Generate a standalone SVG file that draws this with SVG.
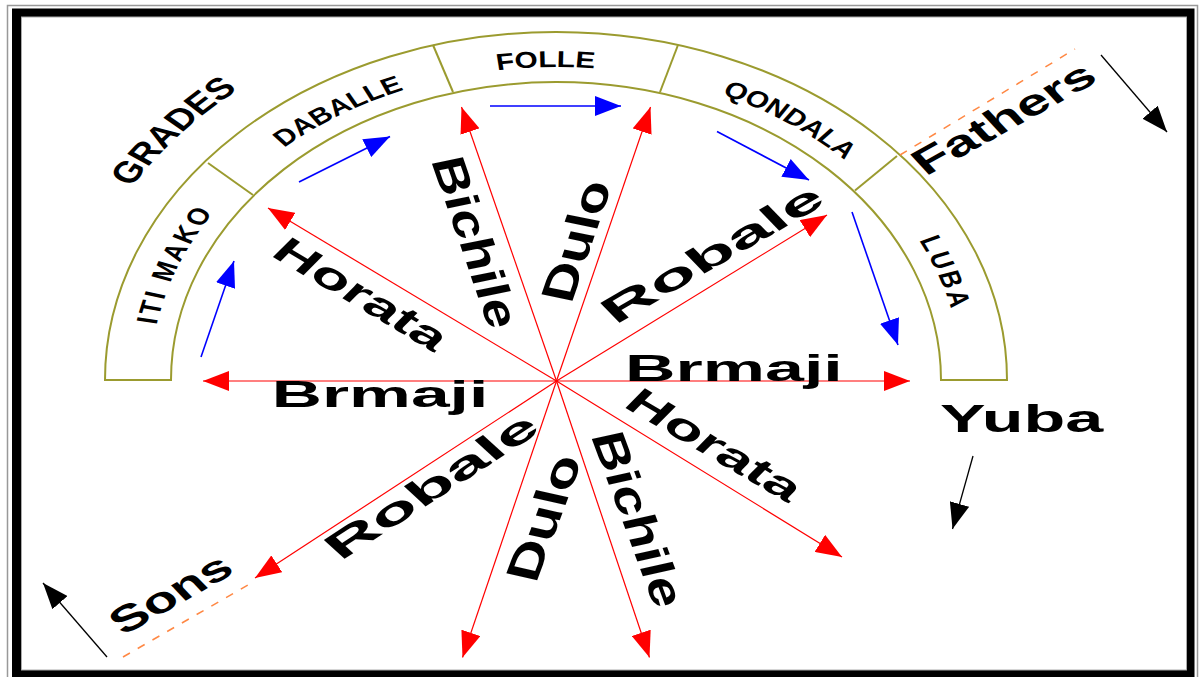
<svg xmlns="http://www.w3.org/2000/svg" width="1200" height="677" viewBox="0 0 1200 677">
<style>
 .band{fill:none;stroke:#9b9b2f;stroke-width:2}
 .red{stroke:#ff0000;stroke-width:1.2;fill:none;marker-end:url(#ar)}
 .blue{stroke:#0000ff;stroke-width:1.6;fill:none;marker-end:url(#ab)}
 .blk{stroke:#000;stroke-width:1.3;fill:none;marker-end:url(#ak)}
 .dash{stroke:#ff8844;stroke-width:1.5;stroke-dasharray:8 9;fill:none}
 text{font-family:"Liberation Sans",Arial,sans-serif;font-weight:bold;fill:#000}
 .lbl{font-size:36px}
 .seg{font-size:23px}
 .grd{font-size:30px}
</style>
<defs>
 <marker id="ar" viewBox="0 0 26 20" refX="26" refY="10" markerWidth="26" markerHeight="20" markerUnits="userSpaceOnUse" orient="auto"><path d="M0,0 L26,10 L0,20 Z" fill="#ff0000"/></marker>
 <marker id="ab" viewBox="0 0 26 20" refX="26" refY="10" markerWidth="26" markerHeight="20" markerUnits="userSpaceOnUse" orient="auto"><path d="M0,0 L26,10 L0,20 Z" fill="#0000ff"/></marker>
 <marker id="ak" viewBox="0 0 26 20" refX="26" refY="10" markerWidth="26" markerHeight="20" markerUnits="userSpaceOnUse" orient="auto"><path d="M0,0 L26,10 L0,20 Z" fill="#000"/></marker>
 <path id="segArc" d="M-313,0 A313,313 0 0 1 313,0"/>
 <path id="gradeArc" d="M-380,0 A380,380 0 0 1 380,0"/>
</defs>
<rect width="1200" height="677" fill="#fff"/>
<g id="frame">
 <rect x="7.5" y="5.5" width="1190" height="680" fill="none" stroke="#999" stroke-width="1.5"/>
 <path d="M12 8.5 H1194.5 V690 H12 Z M21.5 17 V670 H1186.5 V17 Z" fill="#000" fill-rule="evenodd"/>
 <rect x="21.5" y="17" width="1165" height="653" fill="#fff" stroke="#aaa" stroke-width="1"/>
</g>
<g id="grade-band">
 <path class="band" d="M105 380 A451 348 0 0 1 1007 380 L941 380 A385 298 0 0 0 171 380 Z"/>
 <line class="band" x1="208" y1="163" x2="253" y2="195"/>
 <line class="band" x1="433" y1="45" x2="453" y2="92"/>
 <line class="band" x1="678" y1="45" x2="660" y2="92"/>
 <line class="band" x1="897" y1="156" x2="855" y2="190.5"/>
</g>
<g id="connectors">
 <line class="red" x1="556.5" y1="381" x2="203" y2="381"/>
 <line class="red" x1="556.5" y1="381" x2="910" y2="381"/>
 <line class="red" x1="556.5" y1="381" x2="268" y2="208"/>
 <line class="red" x1="556.5" y1="381" x2="461.5" y2="107"/>
 <line class="red" x1="556.5" y1="381" x2="650.5" y2="107"/>
 <line class="red" x1="556.5" y1="381" x2="827" y2="215"/>
 <line class="red" x1="556.5" y1="381" x2="842" y2="557"/>
 <line class="red" x1="556.5" y1="381" x2="649.5" y2="657.5"/>
 <line class="red" x1="556.5" y1="381" x2="462.5" y2="657.5"/>
 <line class="red" x1="556.5" y1="381" x2="255" y2="578"/>
 <line class="blue" x1="201" y1="357" x2="234" y2="261"/>
 <line class="blue" x1="299" y1="182" x2="390" y2="136.5"/>
 <line class="blue" x1="490" y1="106" x2="621" y2="106"/>
 <line class="blue" x1="717" y1="131.5" x2="809" y2="180"/>
 <line class="blue" x1="852" y1="212" x2="898" y2="345"/>
 <line class="blk" x1="1101" y1="55" x2="1167" y2="132"/>
 <line class="blk" x1="973" y1="456" x2="952.5" y2="529"/>
 <line class="blk" x1="107" y1="657" x2="43" y2="583"/>
 <line class="dash" x1="900" y1="155" x2="1075" y2="49"/>
 <line class="dash" x1="123" y1="657" x2="253" y2="582"/>
</g>
<g id="labels" transform="translate(556 380) scale(1.296 1)">
 <g id="grades"><text class="grd" text-anchor="middle"><textPath href="#gradeArc" startOffset="22.3%">GRADES</textPath></text></g>
 <g id="seg-iti-mako"><text class="seg" text-anchor="middle" letter-spacing="2.5"><textPath href="#segArc" startOffset="11.9%">ITI MAKO</textPath></text></g>
 <g id="seg-daballe"><text class="seg" text-anchor="middle"><textPath href="#segArc" startOffset="32.2%">DABALLE</textPath></text></g>
 <g id="seg-folle"><text class="seg" text-anchor="middle"><textPath href="#segArc" startOffset="49.2%">FOLLE</textPath></text></g>
 <g id="seg-qondala"><text class="seg" text-anchor="middle"><textPath href="#segArc" startOffset="69.3%">QONDALA</textPath></text></g>
 <g id="seg-luba"><text class="seg" text-anchor="middle" letter-spacing="3"><textPath href="#segArc" startOffset="89.1%">LUBA</textPath></text></g>
 <g id="horata-up"><text class="lbl" transform="translate(-150.9 -85) rotate(37.6)" y="11" text-anchor="middle" textLength="160" lengthAdjust="spacingAndGlyphs">Horata</text></g>
 <g id="horata-down"><text class="lbl" transform="translate(121.7 66) rotate(37.2)" y="11" text-anchor="middle" textLength="161" lengthAdjust="spacingAndGlyphs">Horata</text></g>
 <g id="bichile-up"><text class="lbl" transform="translate(-63.3 -137.5) rotate(75.1)" y="11" text-anchor="middle" textLength="176" lengthAdjust="spacingAndGlyphs">Bichile</text></g>
 <g id="bichile-down"><text class="lbl" transform="translate(62.1 139.5) rotate(74)" y="11" text-anchor="middle" textLength="181" lengthAdjust="spacingAndGlyphs">Bichile</text></g>
 <g id="dulo-up"><text class="lbl" transform="translate(17 -138.5) rotate(-75.1)" y="11" text-anchor="middle" textLength="124" lengthAdjust="spacingAndGlyphs">Dulo</text></g>
 <g id="dulo-down"><text class="lbl" transform="translate(-8.1 138.5) rotate(-73.8)" y="11" text-anchor="middle" textLength="130" lengthAdjust="spacingAndGlyphs">Dulo</text></g>
 <g id="robale-up"><text class="lbl" transform="translate(121.2 -125) rotate(-36.8)" y="11" text-anchor="middle" textLength="205" lengthAdjust="spacingAndGlyphs">Robale</text></g>
 <g id="robale-down"><text class="lbl" transform="translate(-95.3 107.5) rotate(-40.1)" y="11" text-anchor="middle" textLength="204" lengthAdjust="spacingAndGlyphs">Robale</text></g>
 <g id="brmaji-right"><text class="lbl" transform="translate(137.3 0.5)" text-anchor="middle" textLength="168" lengthAdjust="spacingAndGlyphs">Brmaji</text></g>
 <g id="brmaji-left"><text class="lbl" transform="translate(-135.8 27)" text-anchor="middle" textLength="167" lengthAdjust="spacingAndGlyphs">Brmaji</text></g>
 <g id="fathers"><text class="lbl" transform="translate(346 -260.5) rotate(-35.6)" y="11" text-anchor="middle" textLength="165" lengthAdjust="spacingAndGlyphs">Fathers</text></g>
 <g id="sons"><text class="lbl" transform="translate(-296.7 215) rotate(-36.4)" y="11" text-anchor="middle" textLength="108" lengthAdjust="spacingAndGlyphs">Sons</text></g>
 <g id="yuba"><text style="font-size:38px" transform="translate(359.2 52)" text-anchor="middle" textLength="126" lengthAdjust="spacingAndGlyphs">Yuba</text></g>
</g>
</svg>
